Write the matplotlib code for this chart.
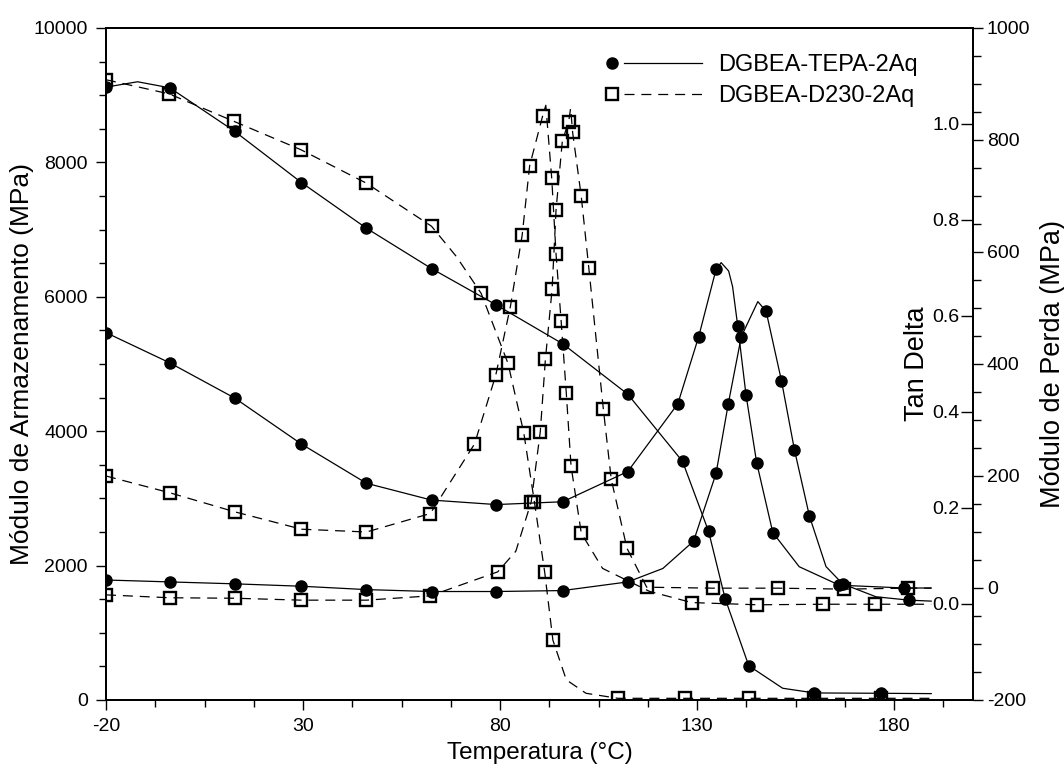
import matplotlib
matplotlib.use('Agg')
import matplotlib.pyplot as plt
import numpy as np
from matplotlib.lines import Line2D
from matplotlib.legend_handler import HandlerBase
from matplotlib.ticker import MultipleLocator, FixedLocator

plt.rcParams['font.family'] = ['Liberation Sans', 'DejaVu Sans']
plt.rcParams['axes.unicode_minus'] = False

# ---- DGBEA-TEPA-2Aq ----
# storage modulus (MPa)
tepa_T_E = [-20, -12, -3.8, 12.7, 29.6, 46.1, 62.6, 79.0, 95.9, 112.4, 126.3, 132.9,
            137.1, 143.1, 151.7, 159.7, 176.6, 189.4]
tepa_E = [9120, 9200, 9110, 8460, 7700, 7020, 6420, 5880, 5300, 4550, 3550, 2510,
          1510, 510, 175, 105, 100, 95]
tepa_E_mk = [1, 0, 1, 1, 1, 1, 1, 1, 1, 1, 1, 1, 1, 1, 0, 1, 1, 0]

# loss modulus (MPa)
tepa_T_L = [-20, -3.8, 12.7, 29.6, 46.1, 62.6, 79.0, 95.9, 112.4, 125.1, 130.4, 134.8,
            136.1, 138.0, 139.0, 140.3, 142.4, 145.1, 149.2, 155.9, 166.1, 182.5, 189.4]
tepa_L = [456, 402, 339, 257, 187, 157, 149, 154, 208, 329, 449, 569,
          581, 566, 538, 468, 345, 224, 99, 38, 5, 0, 0]
tepa_L_mk = [1, 1, 1, 1, 1, 1, 1, 1, 1, 1, 1, 1, 0, 0, 0, 1, 1, 1, 1, 0, 1, 1, 0]

# tan delta
tepa_T_D = [-20, -3.8, 12.7, 29.6, 46.1, 62.6, 79.0, 95.9, 112.4, 121.3, 129.1, 134.8,
            137.9, 141.2, 145.4, 147.5, 151.4, 154.7, 158.5, 162.7, 166.9, 175.4, 183.8, 189.4]
tepa_D = [0.050, 0.046, 0.042, 0.037, 0.030, 0.026, 0.026, 0.028, 0.046, 0.074, 0.131, 0.272,
          0.417, 0.557, 0.630, 0.610, 0.465, 0.321, 0.183, 0.078, 0.042, 0.015, 0.008, 0.006]
tepa_D_mk = [1, 1, 1, 1, 1, 1, 1, 1, 1, 0, 1, 1, 1, 1, 0, 1, 1, 1, 1, 0, 1, 0, 1, 0]

# ---- DGBEA-D230-2Aq ----
d230_T_E = [-20, -4.0, 12.5, 29.4, 46.1, 62.6, 68.9, 75.2, 82.0, 86.0, 88.7, 91.3, 93.4,
            96.8, 101.8, 109.9, 126.8, 143.2, 159.7, 176.6, 189.4]
d230_E = [9230, 9020, 8610, 8190, 7690, 7050, 6600, 6050, 5010, 3980, 2950, 1910, 890,
          300, 100, 25, 25, 25, 25, 25, 25]
d230_E_mk = [1, 1, 1, 1, 1, 1, 0, 1, 1, 1, 1, 1, 1, 0, 0, 1, 1, 1, 1, 1, 0]

d230_T_L = [-20, -3.8, 12.7, 29.6, 46.1, 62.3, 73.5, 78.9, 82.6, 85.6, 87.5, 90.8, 91.6,
            93.1, 94.2, 95.5, 96.8, 98.0, 100.6, 106.0, 117.9, 128.6, 145.3, 162.0, 175.2, 189.4]
d230_L = [200, 170, 136, 105, 100, 133, 257, 380, 502, 630, 754, 843, 862,
          732, 596, 476, 348, 218, 98, 35, -6, -26, -30, -29, -29, -29]
d230_L_mk = [1, 1, 1, 1, 1, 1, 1, 1, 1, 1, 1, 1, 0, 1, 1, 1, 1, 1, 1, 0, 0, 1, 1, 1, 1, 0]

d230_T_D = [-20, -3.8, 12.7, 29.6, 46.1, 62.3, 79.4, 84.0, 87.9, 90.2, 91.5, 93.2, 94.2,
            95.8, 97.4, 97.9, 98.4, 100.6, 102.5, 106.2, 108.2, 112.2, 117.2, 133.9, 150.4,
            167.3, 183.4, 189.4]
d230_D = [0.019, 0.013, 0.012, 0.008, 0.008, 0.017, 0.067, 0.110, 0.213, 0.359, 0.510, 0.656,
          0.821, 0.965, 1.005, 1.033, 0.983, 0.849, 0.701, 0.406, 0.260, 0.116, 0.035, 0.033,
          0.033, 0.031, 0.033, 0.033]
d230_D_mk = [1, 1, 1, 1, 1, 1, 1, 0, 1, 1, 1, 1, 1, 1, 1, 0, 1, 1, 1, 1, 1, 1, 1, 1, 1, 1, 1, 0]

x_major = [-20, 30, 80, 130, 180]
tan_ticks = [0.0, 0.2, 0.4, 0.6, 0.8, 1.0]
names = ['DGBEA-TEPA-2Aq', 'DGBEA-D230-2Aq']

dash = (8, 5.5)
circ = dict(marker='o', ms=8, mfc='k', mec='k', color='k', lw=0.9)
sq = dict(marker='s', ms=8.5, mfc='none', mec='k', mew=1.7, color='k', lw=0.9, dashes=dash)


def mk(m):
    return np.array(m, dtype=bool)


fig = plt.figure(figsize=(10.64, 7.68), dpi=100)
ax = fig.add_axes([106/1064, 68/768, 867/1064, 672/768])
ax_tan = ax.twinx()
ax_per = ax.twinx()

ax.plot(tepa_T_E, tepa_E, markevery=mk(tepa_E_mk), **circ)
ax.plot(d230_T_E, d230_E, markevery=mk(d230_E_mk), **sq)
ax_per.plot(tepa_T_L, tepa_L, markevery=mk(tepa_L_mk), **circ)
ax_per.plot(d230_T_L, d230_L, markevery=mk(d230_L_mk), **sq)
ax_tan.plot(tepa_T_D, tepa_D, markevery=mk(tepa_D_mk), **circ)
ax_tan.plot(d230_T_D, d230_D, markevery=mk(d230_D_mk), **sq)

# left / bottom axes
ax.set_xlim(-20, 200)
ax.set_ylim(0, 10000)
ax.xaxis.set_major_locator(FixedLocator(x_major))
ax.xaxis.set_minor_locator(MultipleLocator(12.5, offset=5))
ax.yaxis.set_major_locator(MultipleLocator(2000))
ax.yaxis.set_minor_locator(MultipleLocator(500))
ax.tick_params(which='major', length=7, width=1, labelsize=14, pad=6)
ax.tick_params(which='minor', length=5, width=1)
ax.tick_params(top=False, right=False, which='both')

# tan delta: ticks and labels inside the right spine
ax_tan.set_ylim(-0.2, 1.2)
ax_tan.set_yticks(tan_ticks, ['%.1f' % t for t in tan_ticks])
ax_tan.tick_params(axis='y', direction='in', length=9, width=1, labelsize=14, pad=-9.5)
plt.setp(ax_tan.get_yticklabels(), ha='right')

# loss modulus
ax_per.set_ylim(-200, 1000)
ax_per.yaxis.set_major_locator(MultipleLocator(200))
ax_per.yaxis.set_minor_locator(MultipleLocator(50))
ax_per.tick_params(axis='y', which='major', direction='out', length=7, width=1, labelsize=14, pad=3)
ax_per.tick_params(axis='y', which='minor', direction='out', length=6, width=1)

for a in (ax, ax_tan, ax_per):
    for s in a.spines.values():
        s.set_linewidth(1.2)

ax.set_xlabel('Temperatura (°C)', fontsize=17.5, labelpad=5)
ax.text(-0.097, 0.5, 'Módulo de Armazenamento (MPa)', rotation=90, fontsize=19,
        ha='center', va='center', transform=ax.transAxes)
ax.text(0.9354, 0.5, 'Tan Delta', rotation=90, fontsize=19.5,
        ha='center', va='center', transform=ax.transAxes)
ax.text(1.092, 0.5, 'Módulo de Perda (MPa)', rotation=90, fontsize=19.5,
        ha='center', va='center', transform=ax.transAxes)


class MarkerThenLine(HandlerBase):
    # marker at the left end, line starting just after it
    def create_artists(self, legend, orig, xdescent, ydescent, width, height, fontsize, trans):
        y = height / 2 - ydescent
        x0 = -xdescent
        ln = Line2D([x0 + 0.75 * fontsize, x0 + width], [y, y])
        ln.update_from(orig)
        ln.set_marker('none')
        ln.set_transform(trans)
        m = Line2D([x0 + 0.27 * fontsize], [y])
        m.update_from(orig)
        m.set_linestyle('none')
        m.set_transform(trans)
        return [ln, m]


h1 = Line2D([], [], **circ)
h2 = Line2D([], [], **sq)
leg = ax_per.legend([h1, h2], names, loc='upper left', bbox_to_anchor=(606/1064, 1 - 54/768),
                    bbox_transform=fig.transFigure, frameon=False, fontsize=17,
                    handlelength=4.05, handletextpad=0.7, labelspacing=0.38,
                    borderpad=0, borderaxespad=0,
                    handler_map={Line2D: MarkerThenLine()})

fig.savefig('out.png', dpi=100)
